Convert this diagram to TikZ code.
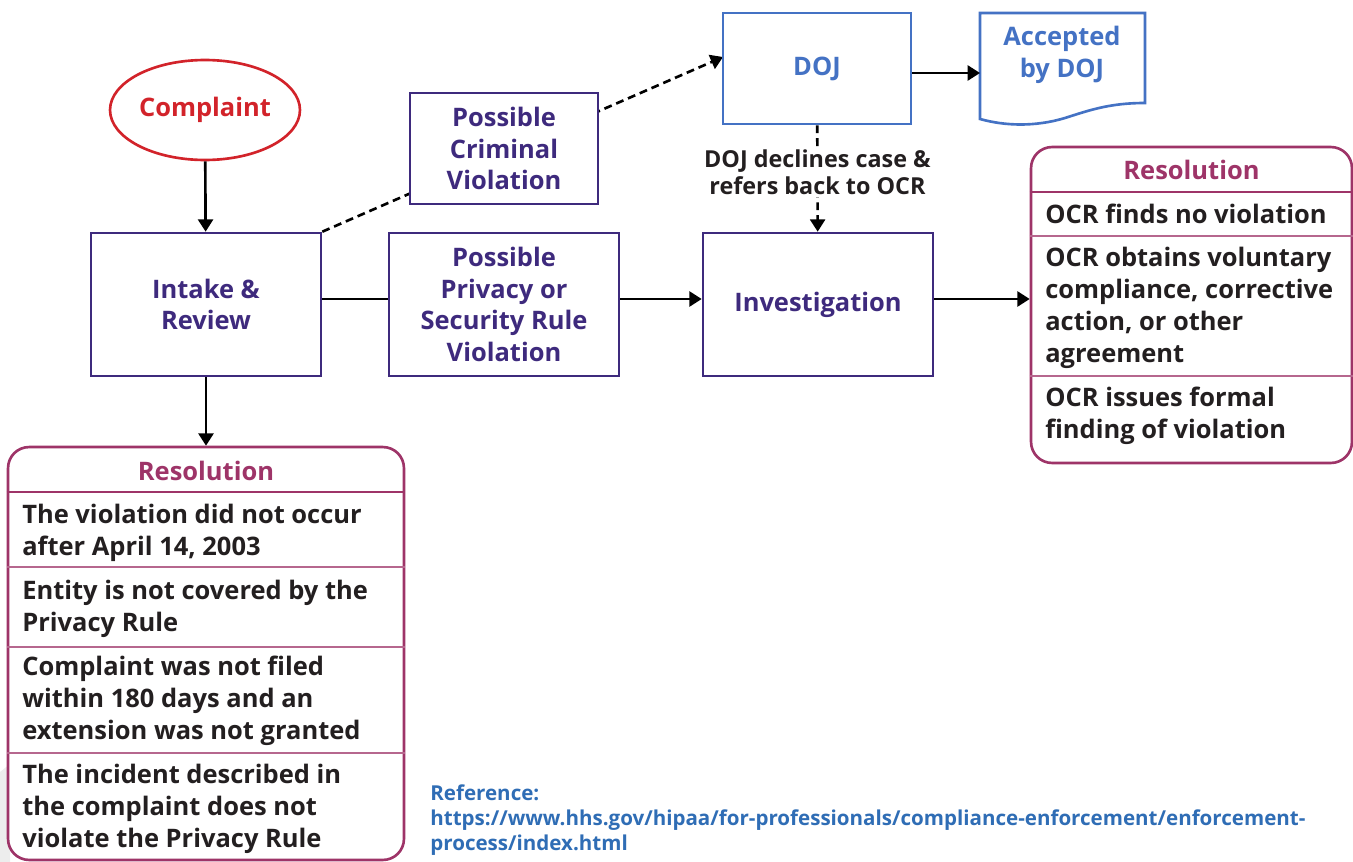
\documentclass[tikz,border=0pt]{standalone}
\usepackage{fontspec}
\setmainfont{Open Sans}[UprightFont=* Bold]
\usetikzlibrary{arrows.meta,backgrounds,shapes.geometric}
\definecolor{ocrpurple}{RGB}{62,42,125}
\definecolor{ocrred}{RGB}{210,35,42}
\definecolor{ocrmagenta}{RGB}{158,52,104}
\definecolor{ocrblue}{RGB}{68,114,196}
\definecolor{ocrlink}{RGB}{47,109,181}
\definecolor{ocrtext}{RGB}{35,31,32}
\newcommand{\boxfont}{\fontsize{14.5}{18.1}\selectfont}

\begin{document}
\begin{tikzpicture}[x=0.02cm, y=-0.02cm,
    procbox/.style={draw=ocrpurple, line width=1.5pt, fill=white, text=ocrpurple,
        align=center, minimum width=4.6cm, minimum height=2.86cm, font=\boxfont},
    smallbox/.style={procbox, minimum width=3.76cm, minimum height=2.22cm},
    conn/.style={line width=1.5pt, -{Triangle[length=7pt,width=8.5pt]}},
    dashconn/.style={conn, dash pattern=on 4.5pt off 2.8pt},
    resframe/.style={draw=ocrmagenta, line width=1.5pt, fill=white, rounded corners=12pt},
    reshead/.style={text=ocrmagenta, font=\boxfont, inner sep=0pt},
    restext/.style={text=ocrtext, font=\boxfont, align=left, anchor=west, inner sep=0pt},
    resrule/.style={draw=ocrmagenta!75, line width=0.8pt}]
    \useasboundingbox (0,0) rectangle (1353,862);
    \fill[black!7] (0,772) -- (10,764) -- (10,862) -- (0,862) -- cycle;

    % Main flow
    \node[draw=ocrred, ellipse, line width=1.5pt, text=ocrred, inner sep=0pt, minimum width=3.8cm,
        minimum height=2cm, font=\boxfont] (complaint) at (205,110) {Complaint};
    \node[procbox] (intake) at (206,304.5) {Intake \&\\Review};
    \node[procbox] (privacy) at (504,304.5) {Possible\\Privacy or\\Security Rule\\Violation};
    \node[procbox] (invest) at (818,304.5) {Investigation};
    \node[smallbox] (criminal) at (504,148.5) {Possible\\Criminal\\Violation};
    \node[smallbox, draw=ocrblue, text=ocrblue] (doj) at (817,68.5) {DOJ};
    \coordinate (midrow) at (0,299);

    % Accepted by DOJ (document shape)
    \draw[ocrblue, line width=1.5pt, fill=white] (980,119) -- (980,13) -- (1145,13) -- (1145,103)
        .. controls (1110,103) and (1090,110) .. (1065,118)
        .. controls (1035,127) and (1005,126) .. (980,119) -- cycle;
    \node[text=ocrblue, align=center, font=\boxfont] (accepted) at (1062,55) {Accepted\\by DOJ};
    \coordinate (accin) at (980,73);

    % Resolution boxes
    \node[resframe, minimum width=7.92cm, minimum height=8.26cm] (resL) at (206,653.5) {};
    \node[resframe, minimum width=6.42cm, minimum height=6.32cm] (resR) at (1191.5,305) {};
    \draw[draw=ocrmagenta, line width=1.5pt] (resL.west |- 0,492) -- (resL.east |- 0,492);
    \draw[draw=ocrmagenta, line width=1.5pt] (resR.west |- 0,192) -- (resR.east |- 0,192);
    \foreach \y in {567,647,753}
        \draw[resrule] (resL.west |- 0,\y) -- (resL.east |- 0,\y);
    \foreach \y in {236,376}
        \draw[resrule] (resR.west |- 0,\y) -- (resR.east |- 0,\y);

    \node[reshead] (resLhead) at (206,471) {Resolution};
    \node[restext] (resL1) at (22,533) {The violation did not occur\\after April 14, 2003};
    \node[restext] (resL2) at (22,609) {Entity is not covered by the\\Privacy Rule};
    \node[restext] (resL3) at (22,701) {Complaint was not filed\\within 180 days and an\\extension was not granted};
    \node[restext] (resL4) at (22,809) {The incident described in\\the complaint does not\\violate the Privacy Rule};

    \node[reshead] (resRhead) at (1191.5,170) {Resolution};
    \node[restext] (resR1) at (1045,214) {OCR finds no violation};
    \node[restext] (resR2) at (1045,308) {OCR obtains voluntary\\compliance, corrective\\action, or other\\agreement};
    \node[restext] (resR3) at (1045,416) {OCR issues formal\\finding of violation};

    % Connectors
    \draw[conn] (complaint) -- (intake);
    \draw[conn] (intake) -- (resL);
    \draw[line width=1.5pt] (intake.east |- midrow) -- (privacy.west |- midrow);
    \draw[conn] (privacy.east |- midrow) -- (invest.west |- midrow);
    \draw[conn] (invest.east |- midrow) -- (resR.west |- midrow);
    \draw[conn] (doj.east |- accin) -- (accin);
    \draw[dashconn] (doj) -- node[pos=0.44, fill=white, text=ocrtext, align=center, inner sep=1pt,
        font=\fontsize{13.3}{15.8}\selectfont] (declines) {DOJ declines case \&\\refers back to OCR} (invest);
    \begin{scope}[on background layer]
        \coordinate (dojin) at (723,57);
        \draw[dashconn] (intake.north east) -- (dojin);
    \end{scope}

    % Reference
    \node[anchor=west, align=left, text=ocrlink, inner sep=0pt,
        font=\fontsize{11.7}{14.2}\selectfont] (reference) at (430,820)
        {Reference:\\https://www.hhs.gov/hipaa/for-professionals/compliance-enforcement/enforcement-\\process/index.html};
\end{tikzpicture}
\end{document}
